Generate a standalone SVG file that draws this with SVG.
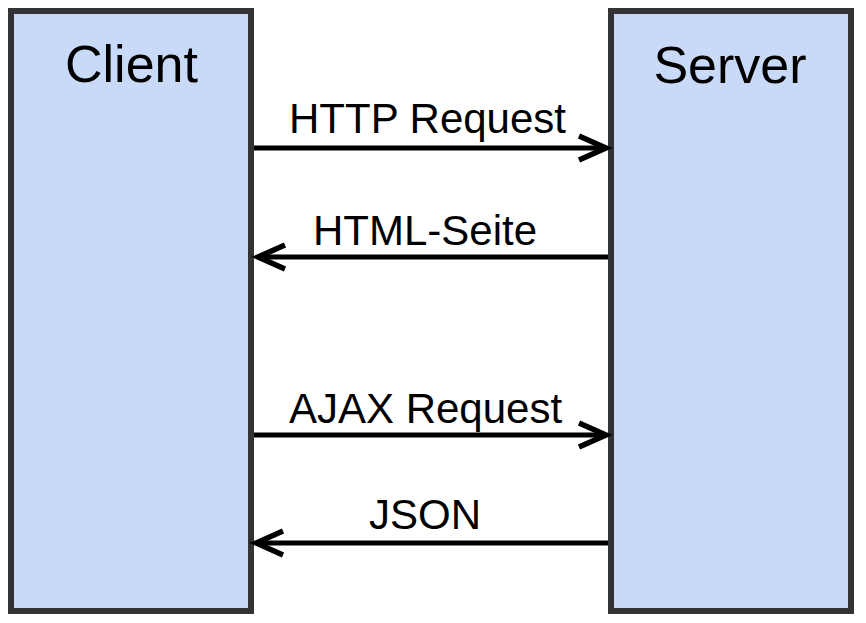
<svg xmlns="http://www.w3.org/2000/svg" width="866" height="623" viewBox="0 0 866 623">
  <style>
    .box { fill: #C9DAF8; stroke: #333333; stroke-width: 6; }
    .title { font-family: "Liberation Sans", Arial, sans-serif; font-size: 52px; fill: #000; text-anchor: middle; }
    .lbl { font-family: "Liberation Sans", Arial, sans-serif; font-size: 42px; fill: #000; text-anchor: middle; }
    .conn { stroke: #000; stroke-width: 5; fill: none; marker-end: url(#arr); }
  </style>
  <defs>
    <marker id="arr" markerUnits="userSpaceOnUse" viewBox="-32 -16 36 32" markerWidth="36" markerHeight="32" refX="0" refY="0" orient="auto" overflow="visible">
      <path d="M-27,-12 L0,0 L-27,12" fill="none" stroke="#000" stroke-width="5.5"/>
    </marker>
  </defs>
  <rect width="866" height="623" fill="#ffffff"/>
  <g id="client">
    <rect class="box" x="11" y="11" width="240" height="600"/>
    <text class="title" x="131.5" y="82">Client</text>
  </g>
  <g id="server">
    <rect class="box" x="611" y="11" width="240" height="600"/>
    <text class="title" x="730" y="83">Server</text>
  </g>
  <g id="connectors">
    <line class="conn" x1="254" y1="148" x2="606" y2="148"/>
    <text class="lbl" x="427.5" y="133">HTTP Request</text>
    <line class="conn" x1="608" y1="257" x2="258" y2="257"/>
    <text class="lbl" x="425" y="245">HTML-Seite</text>
    <line class="conn" x1="254" y1="435" x2="606" y2="435"/>
    <text class="lbl" x="425.5" y="423">AJAX Request</text>
    <line class="conn" x1="608" y1="543" x2="256" y2="543"/>
    <text class="lbl" x="425" y="529">JSON</text>
  </g>
</svg>
